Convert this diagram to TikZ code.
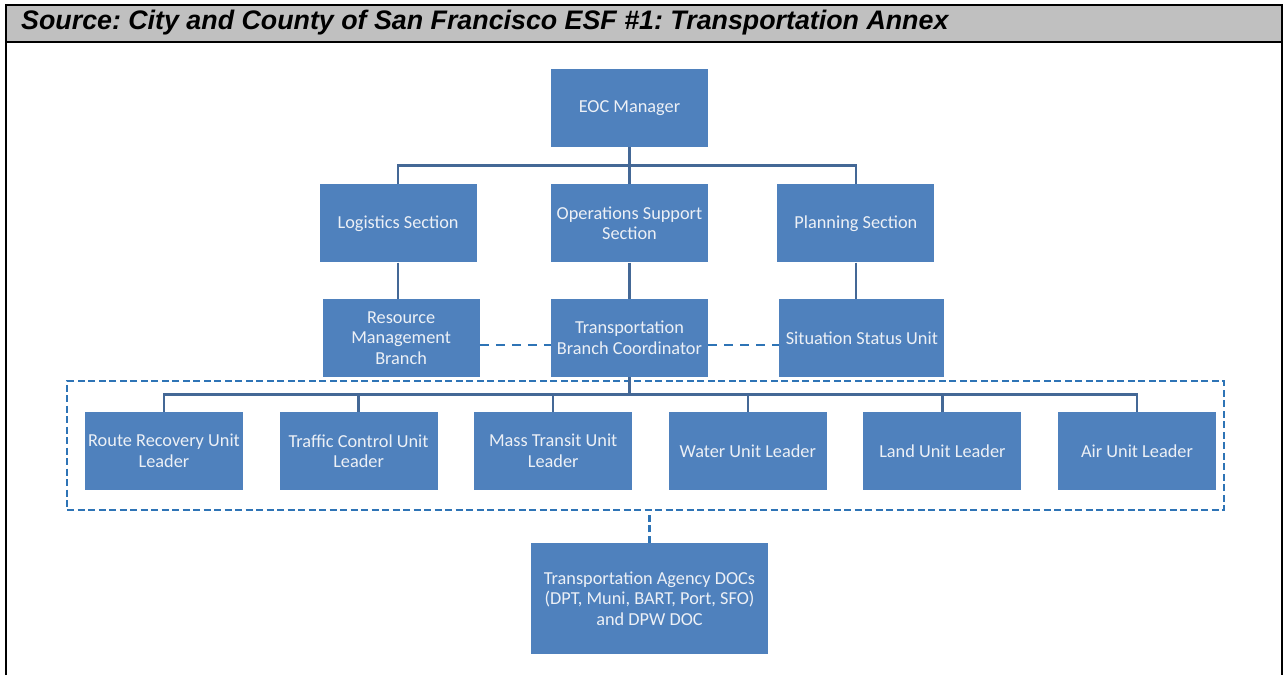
\documentclass[tikz,border=0pt]{standalone}
\usepackage{fontspec}
\usetikzlibrary{positioning,calc}

\newfontfamily\boxfont{Carlito}
\newfontfamily\hdrfont{Liberation Sans}

\definecolor{boxblue}{RGB}{79,129,189}
\definecolor{boxtext}{RGB}{236,240,246}
\definecolor{linkblue}{RGB}{68,104,150}
\definecolor{dashblue}{RGB}{46,116,182}
\definecolor{hdrgray}{RGB}{192,192,192}

\frenchspacing
\begin{document}
\begin{tikzpicture}[x=1pt, y=-1pt, node distance = 37pt and 74pt,
  box/.style = {fill=boxblue, text=boxtext, minimum width=157pt,
    minimum height=78pt, inner sep=0pt, align=center,
    font=\boxfont\fontsize{18.3}{20.5}\selectfont},
  unitbox/.style = {box, minimum width=158pt},
  link/.style = {draw=linkblue, line width=2.5pt},
  grplink/.style = {draw=dashblue, line width=2.6pt, dash pattern=on 7pt off 3.5pt},
  sidelink/.style = {draw=dashblue, line width=2.4pt, dash pattern=on 9pt off 7pt},
  frame/.style = {draw=black, line width=2pt}
  ]
  \useasboundingbox (0,0) rectangle (1283,675);

  % header row
  \fill[hdrgray] (6,5) rectangle (1282,42);
  \draw[frame] (6,675) -- (6,5) -- (1282,5) -- (1282,675);
  \draw[frame] (6,42) -- (1282,42);
  \node (src) [anchor=west, inner sep=0pt,
    font=\hdrfont\bfseries\itshape\fontsize{26.8}{30}\selectfont] at (21,23)
    {Source: City and County of San Francisco ESF \#1: Transportation Annex};

  % chart
  \node (eoc) [box] at (629.5,108) {EOC Manager};
  \node (ops) [box, below=of eoc] {Operations Support\\Section};
  \node (log) [box, left=of ops] {Logistics Section};
  \node (plan) [box, right=69pt of ops] {Planning Section};

  \node (tbc) [box, below=36pt of ops] {Transportation\\Branch Coordinator};
  \node (res) [box, left=71pt of tbc] {Resource\\Management\\Branch};
  \node (sit) [box, minimum width=165pt, right=71pt of tbc] {Situation Status Unit};

  \node (u1) [unitbox] at (164,451) {Route Recovery Unit\\Leader};
  \node (u2) [unitbox, right=36.2pt of u1] {Traffic Control Unit\\Leader};
  \node (u3) [unitbox, right=36.2pt of u2] {Mass Transit Unit\\Leader};
  \node (u4) [unitbox, right=36.2pt of u3] {Water Unit Leader};
  \node (u5) [unitbox, right=36.2pt of u4] {Land Unit Leader};
  \node (u6) [unitbox, right=36.2pt of u5] {Air Unit Leader};

  \node (grp) [grplink, minimum width=1157pt, minimum height=129pt,
    inner sep=0pt] at (645.5,445.5) {};

  \node (doc) [box, minimum width=237pt, minimum height=111pt] at (649.5,598.5)
    {Transportation Agency DOCs\\(DPT, Muni, BART, Port, SFO)\\and DPW DOC};

  \coordinate (bar1) at ($(eoc.south)!0.5!(ops.north)$);
  \coordinate (bar2) at ($(tbc.south)!0.5!(tbc.south |- u1.north)$);

  \draw[link] (eoc) -- (ops);
  \draw[link] (log.north) -- (log.north |- bar1) -- (plan.north |- bar1) -- (plan.north);
  \draw[link] (log.south) -- (log.south |- res.north);
  \draw[link] (ops) -- (tbc);
  \draw[link] (plan.south) -- (plan.south |- sit.north);

  \draw[sidelink] ($(res.east)+(0,7)$) -- ($(tbc.west)+(0,7)$);
  \draw[sidelink] ($(tbc.east)+(0,7)$) -- ($(sit.west)+(0,7)$);

  \draw[link] (tbc.south) -- (tbc.south |- bar2);
  \draw[link] (u1.north) -- (u1.north |- bar2) -| (u6.north);
  \foreach \i in {2,...,5}
    \draw[link] (u\i.north) -- (u\i.north |- bar2);

  \draw[grplink] (doc.north) -- (doc.north |- grp.south);
\end{tikzpicture}
\end{document}
